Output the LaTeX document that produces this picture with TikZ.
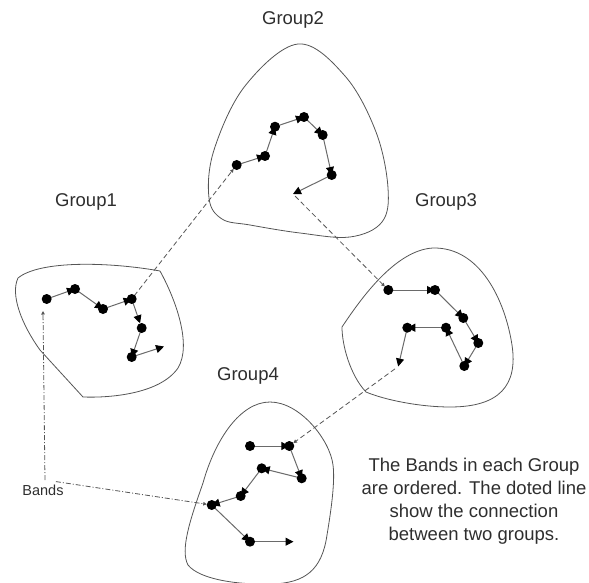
\documentclass[tikz,border=0pt]{standalone}
\usepackage{fontspec}
\setmainfont{Liberation Sans}
\usetikzlibrary{arrows.meta,backgrounds}
\definecolor{textc}{HTML}{2E2E2E}
\definecolor{linec}{HTML}{555555}
\definecolor{bandc}{HTML}{6A6A6A}
\tikzset{
  blob/.style={draw=linec, line width=0.8pt},
  dot/.style={circle, fill=black, inner sep=0pt, minimum size=10pt},
  band/.style={draw=bandc, line width=1pt, -{Triangle[length=8pt,width=8pt,black]}},
  link/.style={draw=linec, line width=0.8pt, dash pattern=on 5pt off 3pt, -{Triangle[length=3.5pt,width=3.5pt]}, shorten >=5pt, shorten <=4pt},
  bandline/.style={draw=linec, line width=0.8pt, dash pattern=on 5pt off 2pt on 1pt off 2pt, -{Triangle[length=3.5pt,width=3.5pt]}},
  grp/.style={text=textc, font=\fontsize{18.5}{22}\selectfont},
  note/.style={text=textc, align=center, font=\fontsize{18.5}{23}\selectfont}
}
\begin{document}
\begin{tikzpicture}[x=1pt,y=-1pt]
\useasboundingbox (0,0) rectangle (589,583);

% labels
\node[grp] (l2) at (293,20) {Group2};
\node[grp] (l1) at (86,202) {Group1};
\node[grp] (l3) at (446,202) {Group3};
\node[grp] (l4) at (248,376) {Group4};
\node[text=textc, font=\fontsize{14.5}{17}\selectfont] (bands) at (43,490) {Bands};
\node[note] (txt) at (474,501) {The Bands in each Group\\are ordered. The doted line\\show the connection\\between two groups.};

% Group1 dots
\node[dot] (g1a) at (46.7,299) {};
\node[dot] (g1b) at (75,289) {};
\node[dot] (g1c) at (103,309) {};
\node[dot] (g1d) at (131.7,299) {};
\node[dot] (g1e) at (141.7,328) {};
\node[dot] (g1f) at (131.7,357) {};
\coordinate (g1z) at (164,346.5);
% Group2 dots
\node[dot] (g2a) at (236.7,165) {};
\node[dot] (g2b) at (265,156) {};
\node[dot] (g2c) at (275,126.7) {};
\node[dot] (g2d) at (304,117) {};
\node[dot] (g2e) at (322.7,135) {};
\node[dot] (g2f) at (331.7,175) {};
\coordinate (g2z) at (293,194);
% Group3 dots
\node[dot] (g3a) at (388.3,290) {};
\node[dot] (g3b) at (435,290) {};
\node[dot] (g3c) at (463.3,318) {};
\node[dot] (g3d) at (478.3,343) {};
\node[dot] (g3e) at (464.3,366) {};
\node[dot] (g3f) at (446,327.7) {};
\node[dot] (g3g) at (407.3,327.7) {};
\coordinate (g3z) at (398.2,366.5);
% Group4 dots
\node[dot] (g4a) at (250,446) {};
\node[dot] (g4b) at (289.3,446) {};
\node[dot] (g4c) at (301.7,478.3) {};
\node[dot] (g4d) at (261.7,468.3) {};
\node[dot] (g4e) at (240.7,496) {};
\node[dot] (g4f) at (211.7,505) {};
\node[dot] (g4g) at (250,541.7) {};
\coordinate (g4z) at (293.5,541.7);

\begin{scope}[on background layer]
% outlines
\draw[blob] plot[smooth cycle, tension=0.6] coordinates {(298,44) (345,76) (376,132) (388,188) (382,222) (350,237) (300,233) (250,225) (222,219) (209,198) (214,150) (245,86)};
\draw[blob] (160,271) .. controls (176,300) and (192,345) .. (178,368) .. controls (160,394) and (110,398) .. (83,397) -- (40,350) .. controls (22,325) and (10,295) .. (18,278) .. controls (40,260) and (110,262) .. (160,271);
\draw[blob] (342,327) .. controls (360,300) and (395,250) .. (433,248) .. controls (480,247) and (505,300) .. (512,345) .. controls (518,385) and (500,407) .. (450,407) .. controls (420,407) and (385,400) .. (366,392) .. controls (350,375) and (342,345) .. (342,327);
\draw[blob] (333,465) .. controls (330,440) and (300,402) .. (270,402) .. controls (240,402) and (215,440) .. (203,483) .. controls (190,520) and (180,550) .. (188,565) .. controls (200,580) and (240,585) .. (272,584) .. controls (305,583) and (322,570) .. (327,535) .. controls (332,505) and (335,480) .. (333,465);

% chains
\draw[band] (g1a.center) -- (g1b.center);
\draw[band] (g1b.center) -- (g1c.center);
\draw[band] (g1c.center) -- (g1d.center);
\draw[band, shorten >=5pt] (g1d.center) -- (g1e.center);
\draw[band] (g1e.center) -- (g1f.center);
\draw[band] (g1f.center) -- (g1z);

\draw[band] (g2a.center) -- (g2b.center);
\draw[band] (g2b.center) -- (g2c.center);
\draw[band] (g2c.center) -- (g2d.center);
\draw[band] (g2d.center) -- (g2e.center);
\draw[band] (g2e.center) -- (g2f.center);
\draw[band] (g2f.center) -- (g2z);

\draw[band] (g3a.center) -- (g3b.center);
\draw[band] (g3b.center) -- (g3c.center);
\draw[band] (g3c.center) -- (g3d.center);
\draw[band] (g3d.center) -- (g3e.center);
\draw[band] (g3e.center) -- (g3f.center);
\draw[band] (g3f.center) -- (g3g.center);
\draw[band] (g3g.center) -- (g3z);

\draw[band] (g4a.center) -- (g4b.center);
\draw[band] (g4b.center) -- (g4c.center);
\draw[band] (g4c.center) -- (g4d.center);
\draw[band] (g4d.center) -- (g4e.center);
\draw[band] (g4e.center) -- (g4f.center);
\draw[band] (g4f.center) -- (g4g.center);
\draw[band] (g4g.center) -- (g4z);

% links between groups
\draw[link] (g1d.center) -- (g2a.center);
\draw[link, shorten <=3pt] (g2z) -- (g3a.center);
\draw[link, shorten <=4pt] (g3z) -- (g4b.center);

% bands pointers
\draw[bandline, shorten <=1pt] ([xshift=2pt]bands.north) -- ([yshift=-12pt]bands.north |- g1a);
\draw[bandline, shorten <=3pt, shorten >=5pt] ([xshift=10pt]bands.north) -- (g4f.center);
\end{scope}
\end{tikzpicture}
\end{document}
